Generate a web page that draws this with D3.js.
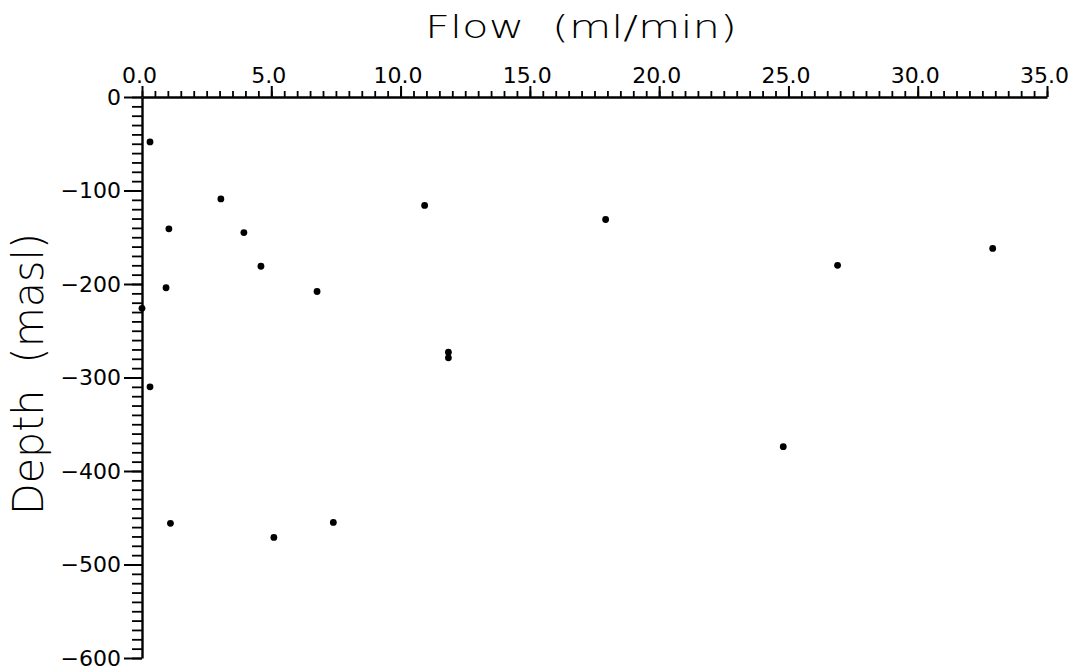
<!DOCTYPE html>
<html>
<head>
<meta charset="utf-8">
<script src="https://cdn.jsdelivr.net/npm/d3@7"></script>
<style>
  html, body { margin: 0; padding: 0; background: #fff; }
  svg { display: block; }
  text { font-family: "DejaVu Sans", sans-serif; fill: #000; }
</style>
</head>
<body>
<svg id="chart" width="1076" height="671"></svg>
<script>
// Data
const flow  = [0.31, 3.05, 1.04, 3.94, 4.6, 6.77, 0.93, 0.0, 10.93, 17.93, 11.85, 11.85, 0.31, 1.1, 5.1, 7.4, 24.8, 26.9, 32.9];
const depth = [-48, -109, -141, -145, -181, -208, -204, -226, -116, -131, -273, -279, -310, -456, -471, -455, -374, -180, -162];
const xMajorTicks = [0, 5, 10, 15, 20, 25, 30, 35];
const yMajorTicks = [0, -100, -200, -300, -400, -500, -600];
const xTitle = "Flow  (ml/min)";
const yTitle = "Depth  (masl)";

const svg = d3.select("#chart");
const x = d3.scaleLinear().domain([0, 35]).range([142, 1047]);
const y = d3.scaleLinear().domain([-600, 0]).range([658, 97]);

const xMinor = d3.range(0, 35.001, 0.5);
const yMinor = d3.range(-600, 0.001, 10);

// minor ticks
svg.append("g")
  .attr("transform", `translate(0,${y(0)})`)
  .call(d3.axisTop(x).tickValues(xMinor).tickSize(6).tickSizeOuter(0).tickFormat(""))
  .call(g => g.select(".domain").remove())
  .call(g => g.selectAll("line").attr("stroke", "#000").attr("stroke-width", 1.8));

svg.append("g")
  .attr("transform", `translate(${x(0)},0)`)
  .call(d3.axisLeft(y).tickValues(yMinor).tickSize(10).tickSizeOuter(0).tickFormat(""))
  .call(g => g.select(".domain").remove())
  .call(g => g.selectAll("line").attr("stroke", "#000").attr("stroke-width", 1.8));

// major ticks + labels
svg.append("g")
  .attr("transform", `translate(0,${y(0)})`)
  .call(d3.axisTop(x).tickValues(xMajorTicks).tickSize(11).tickSizeOuter(0).tickPadding(3).tickFormat(d3.format(".1f")))
  .call(g => g.select(".domain").attr("stroke", "#000").attr("stroke-width", 2.4))
  .call(g => g.selectAll("line").attr("stroke", "#000").attr("stroke-width", 2))
  .call(g => g.selectAll("text").attr("font-size", 22).attr("dx", -3)
      .attr("font-family", "DejaVu Sans, sans-serif").attr("font-weight", 400).attr("fill", "#000"));

svg.append("g")
  .attr("transform", `translate(${x(0)},0)`)
  .call(d3.axisLeft(y).tickValues(yMajorTicks).tickSize(18).tickSizeOuter(0).tickPadding(3).tickFormat(d3.format("d")))
  .call(g => g.select(".domain").attr("stroke", "#000").attr("stroke-width", 2.4))
  .call(g => g.selectAll("line").attr("stroke", "#000").attr("stroke-width", 2))
  .call(g => g.selectAll("text").attr("font-size", 22)
      .attr("font-family", "DejaVu Sans, sans-serif").attr("font-weight", 400).attr("fill", "#000"));

// titles
svg.append("text")
  .attr("x", 425).attr("y", 38)
  .attr("font-size", 32)
  .attr("font-weight", 200)
  .attr("textLength", 312).attr("lengthAdjust", "spacingAndGlyphs")
  .style("white-space", "pre")
  .text(xTitle);

svg.append("text")
  .attr("transform", "translate(43,515) rotate(-90)")
  .attr("font-size", 42)
  .attr("font-weight", 200)
  .attr("textLength", 282).attr("lengthAdjust", "spacingAndGlyphs")
  .style("white-space", "pre")
  .text(yTitle);

// points
svg.append("g")
  .selectAll("circle")
  .data(flow.map((f, i) => ({f, d: depth[i]})))
  .join("circle")
  .attr("cx", p => x(p.f))
  .attr("cy", p => y(p.d))
  .attr("r", 3.4)
  .attr("fill", "#000");
</script>
</body>
</html>
